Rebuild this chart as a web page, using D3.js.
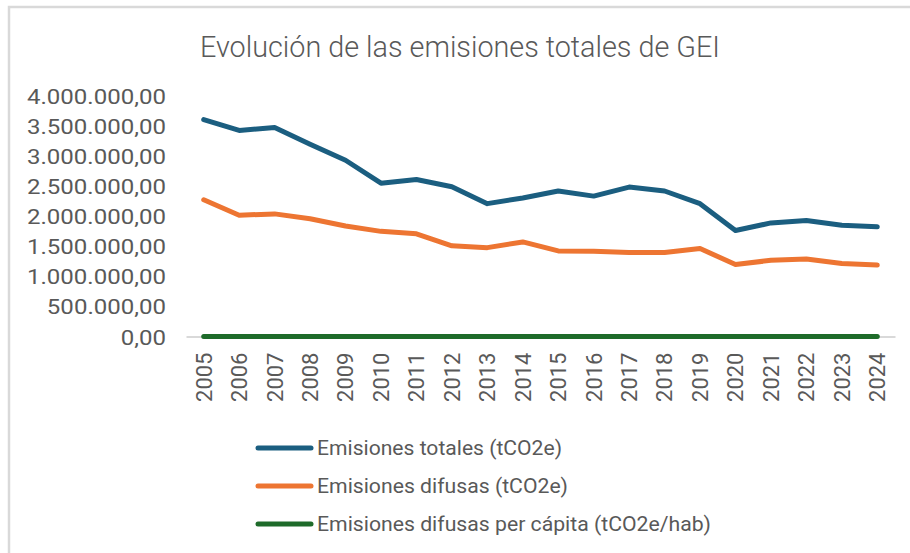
<!DOCTYPE html>
<html>
<head>
<meta charset="utf-8">
<script src="https://cdn.jsdelivr.net/npm/d3@7"></script>
<style>
  body { margin: 0; background: #fff; }
  text { font-family: Roboto, "Noto Sans", sans-serif; fill: #595959; }
</style>
</head>
<body>
<div id="chart"></div>
<script>
// data
var years = ["2005","2006","2007","2008","2009","2010","2011","2012","2013","2014",
             "2015","2016","2017","2018","2019","2020","2021","2022","2023","2024"];
var totales = [3600000, 3420000, 3470000, 3190000, 2925000, 2545000, 2605000, 2485000, 2205000, 2300000,
               2415000, 2330000, 2480000, 2415000, 2205000, 1760000, 1885000, 1925000, 1845000, 1820000];
var difusas = [2270000, 2012000, 2035000, 1955000, 1835000, 1745000, 1705000, 1505000, 1475000, 1570000,
               1420000, 1415000, 1395000, 1395000, 1460000, 1195000, 1265000, 1285000, 1210000, 1185000];
var perCapita = [6.1, 5.5, 5.5, 5.3, 5.0, 4.8, 4.7, 4.1, 4.0, 4.3,
                 3.9, 3.9, 3.8, 3.8, 4.0, 3.3, 3.5, 3.5, 3.3, 3.2];
var yTicks = [0, 500000, 1000000, 1500000, 2000000, 2500000, 3000000, 3500000, 4000000];

var seriesNames = ["Emisiones totales (tCO2e)", "Emisiones difusas (tCO2e)", "Emisiones difusas per cápita (tCO2e/hab)"];
var seriesColors = ["#1b5e80", "#ed7532", "#1e6b2a"];
var seriesValues = [totales, difusas, perCapita];

var W = 910, H = 553;
var svg = d3.select("#chart").append("svg").attr("width", W).attr("height", H);

// frame
svg.append("rect")
  .attr("x", 9).attr("y", 7).attr("width", W).attr("height", H)
  .attr("fill", "none").attr("stroke", "#d9d9d9").attr("stroke-width", 2.5);

var es = d3.formatLocale({decimal: ",", thousands: ".", grouping: [3], currency: ["", "€"]});
var fmt = es.format(",.2f");

var x = d3.scaleBand().domain(years).range([186, 895]);
var y = d3.scaleLinear().domain([0, 4000000]).range([336.5, 95.5]);

// title
svg.append("text")
  .attr("x", 460).attr("y", 57)
  .attr("text-anchor", "middle")
  .style("font-size", "30px").style("font-weight", 300)
  .attr("textLength", 520).attr("lengthAdjust", "spacingAndGlyphs")
  .text("Evolución de las emisiones totales de GEI");

// y axis labels
var yAxis = svg.append("g").attr("transform", "translate(166,0)")
  .call(d3.axisLeft(y).tickValues(yTicks).tickFormat(fmt).tickSize(0).tickPadding(0));
yAxis.select(".domain").remove();
var yLabels = yAxis.selectAll("text")
  .style("font-size", "21px").attr("fill", "#595959")
  .attr("dy", "0.36em");
// stretch labels so the widest one spans like in the picture
var widest = d3.max(yLabels.nodes(), function(n) { return n.getComputedTextLength(); });
var k = 139 / widest;
yLabels.each(function() {
  var w = this.getComputedTextLength();
  d3.select(this).attr("textLength", w * k).attr("lengthAdjust", "spacingAndGlyphs");
});

// x axis
var xAxis = svg.append("g").attr("transform", "translate(0," + y(0) + ")")
  .call(d3.axisBottom(x).tickSize(0).tickPadding(0));
xAxis.select(".domain").attr("stroke", "#d9d9d9").attr("stroke-width", 2);
xAxis.selectAll("text")
  .style("font-size", "22px").attr("fill", "#595959")
  .attr("text-anchor", "end")
  .attr("transform", "rotate(-90)")
  .attr("x", -16).attr("y", 0).attr("dy", "0.36em");

// lines
var line = d3.line()
  .x(function(d, i) { return x(years[i]) + x.bandwidth() / 2; })
  .y(function(d) { return y(d); });

seriesValues.forEach(function(vals, k) {
  svg.append("path")
    .datum(vals)
    .attr("fill", "none")
    .attr("stroke", seriesColors[k])
    .attr("stroke-width", 5)
    .attr("stroke-linejoin", "round")
    .attr("stroke-linecap", "round")
    .attr("d", line);
});

// legend
var legendY = [448, 486, 524];
var legendW = [245, 251, 394];
var legend = svg.append("g");
seriesNames.forEach(function(name, k) {
  legend.append("line")
    .attr("x1", 258).attr("x2", 311)
    .attr("y1", legendY[k]).attr("y2", legendY[k])
    .attr("stroke", seriesColors[k]).attr("stroke-width", 5)
    .attr("stroke-linecap", "round");
  legend.append("text")
    .attr("x", 317).attr("y", legendY[k]).attr("dy", "0.36em")
    .style("font-size", "20px")
    .attr("textLength", legendW[k]).attr("lengthAdjust", "spacingAndGlyphs")
    .text(name);
});
</script>
</body>
</html>
